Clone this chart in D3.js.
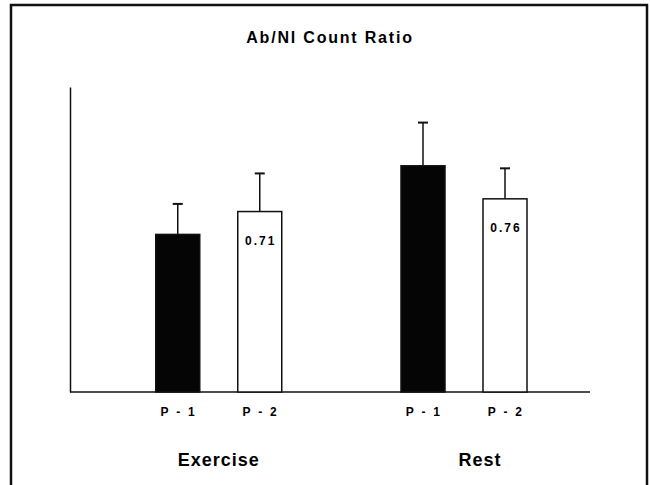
<!DOCTYPE html>
<html>
<head>
<meta charset="utf-8">
<script src="https://cdn.jsdelivr.net/npm/d3@7"></script>
<style>
  body { margin: 0; background: #fff; }
  text { font-family: "Liberation Sans", Arial, sans-serif; font-weight: bold; fill: #000; }
</style>
</head>
<body>
<div id="canvas"></div>
<script>
"use strict"

// data
let groups = ["Exercise", "Rest"]
let periods = ["P - 1", "P - 2"]
let exerciseMeans = [0.62, 0.71]
let exerciseErrors = [0.12, 0.15]
let restMeans = [0.89, 0.76]
let restErrors = [0.17, 0.12]
let shownLabels = ["", "0.71", "", "0.76"]   // P-1 labels are lost in the black bars

let bars = []
groups.forEach(function (g, gi) {
    let means = gi == 0 ? exerciseMeans : restMeans
    let errs = gi == 0 ? exerciseErrors : restErrors
    periods.forEach(function (p, pi) {
        bars.push({ group: g, period: p, value: means[pi], err: errs[pi], label: shownLabels[gi * 2 + pi] })
    })
})

let drawing = d3.select("#canvas")
    .append("svg")
    .attr("width", 650)
    .attr("height", 485)

// outer frame, bottom runs off the picture
let frame = drawing.append("rect")
    .attr("x", 11)
    .attr("y", 5)
    .attr("width", 636)
    .attr("height", 500)
    .attr("fill", "none")
    .attr("stroke", "#111")
    .attr("stroke-width", 2.5)

let title = drawing.append("text")
    .attr("x", 330)
    .attr("y", 43)
    .attr("text-anchor", "middle")
    .attr("font-size", 16)
    .attr("letter-spacing", 1.8)
    .text("Ab/Nl Count Ratio")

let y = d3.scaleLinear()
    .domain([0, 1.2])
    .range([392, 87])

let xGroup = d3.scalePoint()
    .domain(groups)
    .range([218.75, 464])

let xPeriod = d3.scalePoint()
    .domain(periods)
    .range([-41, 41])

let barWidth = 44

function barCenter(d) {
    return xGroup(d.group) + xPeriod(d.period)
}

// y axis: plain line, no ticks
let yAxis = drawing.append("g")
    .attr("transform", "translate(70,0)")
    .call(d3.axisLeft(y).tickValues([]).tickSizeOuter(0))
yAxis.select(".domain").attr("stroke", "#111").attr("stroke-width", 1.5)

// baseline
let baseline = drawing.append("line")
    .attr("x1", 70)
    .attr("x2", 590)
    .attr("y1", y(0))
    .attr("y2", y(0))
    .attr("stroke", "#111")
    .attr("stroke-width", 1.5)

// error bars
let errLines = drawing.selectAll(".err")
    .data(bars)
    .enter()
    .append("line")
    .attr("class", "err")
    .attr("x1", barCenter)
    .attr("x2", barCenter)
    .attr("y1", d => y(d.value))
    .attr("y2", d => y(d.value + d.err))
    .attr("stroke", "#111")
    .attr("stroke-width", 1.5)

let errCaps = drawing.selectAll(".cap")
    .data(bars)
    .enter()
    .append("line")
    .attr("class", "cap")
    .attr("x1", d => barCenter(d) - 5)
    .attr("x2", d => barCenter(d) + 5)
    .attr("y1", d => y(d.value + d.err))
    .attr("y2", d => y(d.value + d.err))
    .attr("stroke", "#111")
    .attr("stroke-width", 2)

let rects = drawing.selectAll(".bar")
    .data(bars)
    .enter()
    .append("rect")
    .attr("class", "bar")
    .attr("x", d => barCenter(d) - barWidth / 2)
    .attr("y", d => y(d.value))
    .attr("width", barWidth)
    .attr("height", d => y(0) - y(d.value))
    .attr("fill", d => d.period == "P - 1" ? "#050505" : "#fff")
    .attr("stroke", "#111")
    .attr("stroke-width", 1.5)

let valueLabels = drawing.selectAll(".val")
    .data(bars.filter(d => d.label != ""))
    .enter()
    .append("text")
    .attr("class", "val")
    .attr("x", d => barCenter(d) + 1)
    .attr("y", d => y(d.value) + 33)
    .attr("text-anchor", "middle")
    .attr("font-size", 12)
    .attr("letter-spacing", 2)
    .text(d => d.label)

let periodLabels = drawing.selectAll(".per")
    .data(bars)
    .enter()
    .append("text")
    .attr("class", "per")
    .attr("x", d => barCenter(d) + 1)
    .attr("y", 416)
    .attr("text-anchor", "middle")
    .attr("font-size", 12)
    .attr("letter-spacing", 2.3)
    .text(d => d.period)

let groupLabels = drawing.selectAll(".grp")
    .data(groups)
    .enter()
    .append("text")
    .attr("class", "grp")
    .attr("x", (d, i) => xGroup(d) + (i == 1 ? 16 : 0))
    .attr("y", 466)
    .attr("text-anchor", "middle")
    .attr("font-size", 18)
    .attr("letter-spacing", 1)
    .text(d => d)
</script>
</body>
</html>
